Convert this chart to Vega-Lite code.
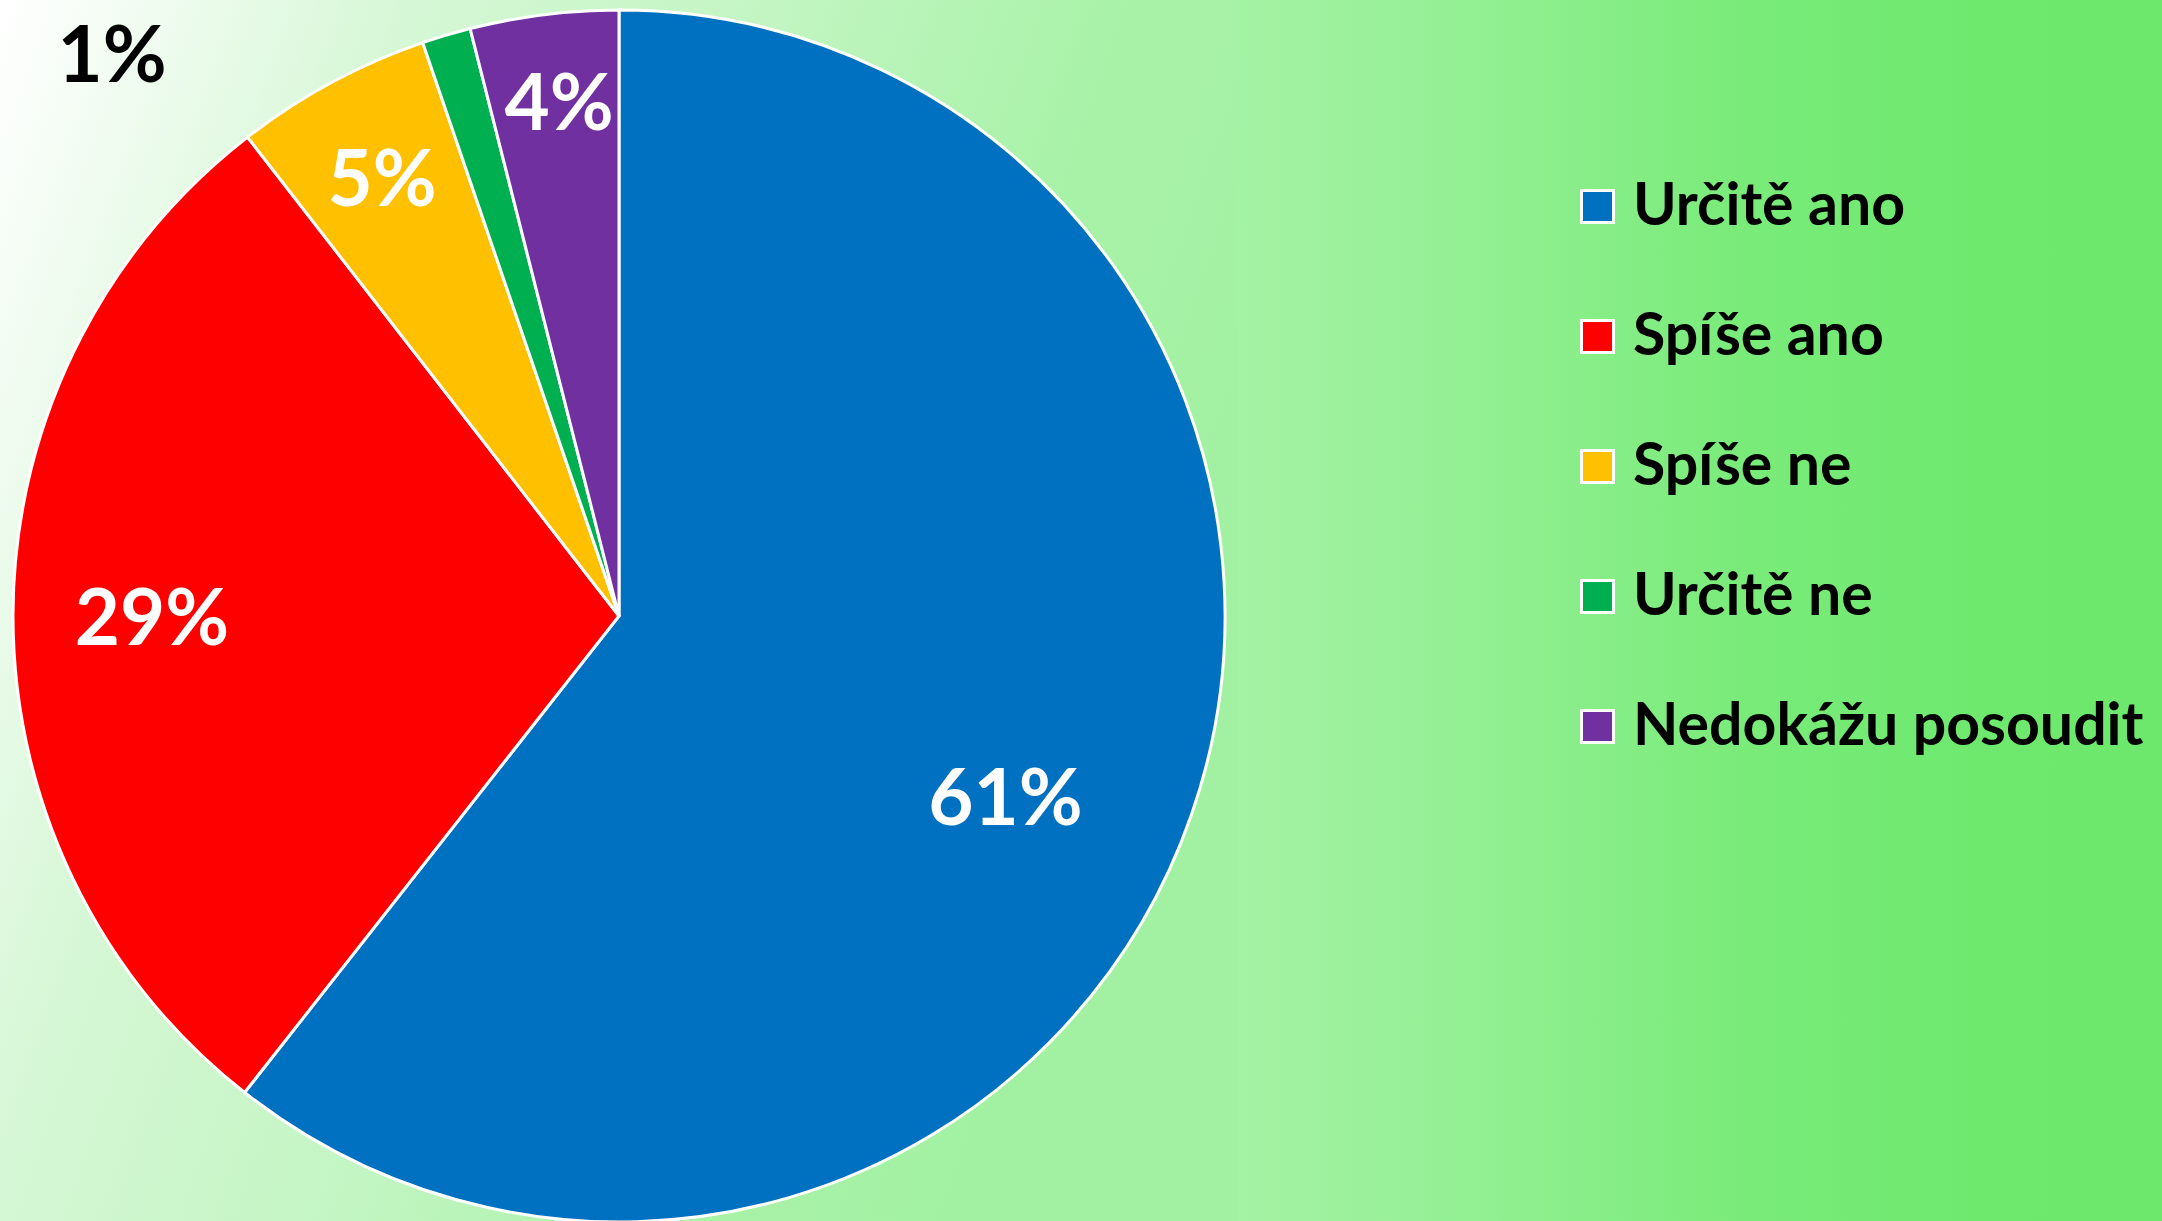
{
  "$schema": "https://vega.github.io/schema/vega-lite/v6.json",
  "padding": 0,
  "spacing": 0,
  "background": "#9ff09f",
  "datasets": {
    "answers": [
      {"i": 0, "odpoved": "Určitě ano", "podil": 0.606},
      {"i": 1, "odpoved": "Spíše ano", "podil": 0.289},
      {"i": 2, "odpoved": "Spíše ne", "podil": 0.0525},
      {"i": 3, "odpoved": "Určitě ne", "podil": 0.013},
      {"i": 4, "odpoved": "Nedokážu posoudit", "podil": 0.0395}
    ]
  },
  "config": {
    "view": {"stroke": null},
    "text": {"font": "Lato", "fontWeight": "bold", "fontSize": 78, "align": "center", "baseline": "middle"}
  },
  "hconcat": [
    {
      "width": 1238,
      "height": 1232,
      "view": {
        "stroke": null,
        "fill": {"gradient": "linear", "x1": 0, "y1": 0, "x2": 1, "y2": 0.35,
          "stops": [
            {"offset": 0, "color": "#ffffff"},
            {"offset": 0.1, "color": "#f2fcf2"},
            {"offset": 0.3, "color": "#d5f7d5"},
            {"offset": 0.55, "color": "#c3f5c3"},
            {"offset": 0.8, "color": "#a9f2a9"},
            {"offset": 1, "color": "#a2f1a2"}
          ]}
      },
      "data": {"name": "answers"},
      "encoding": {
        "theta": {"field": "podil", "type": "quantitative", "stack": true},
        "order": {"field": "i", "type": "quantitative"}
      },
      "layer": [
        {
          "mark": {"type": "arc", "outerRadius": 606, "stroke": "white", "strokeWidth": 3},
          "encoding": {
            "color": {
              "field": "odpoved", "type": "nominal",
              "scale": {
                "domain": ["Určitě ano", "Spíše ano", "Spíše ne", "Určitě ne", "Nedokážu posoudit"],
                "range": ["#0070c0", "#ff0000", "#ffc000", "#00b050", "#7030a0"]
              },
              "legend": {
                "orient": "none", "legendX": 1568, "legendY": 177,
                "title": null, "padding": 0,
                "labelFont": "Lato", "labelFontSize": 59, "labelFontWeight": "bold", "labelColor": "black",
                "labelLimit": 0, "labelOffset": 6,
                "symbolType": "square", "symbolSize": 1024,
                "symbolStrokeColor": "white", "symbolStrokeWidth": 3, "symbolOpacity": 1,
                "rowPadding": 70
              }
            }
          }
        },
        {
          "mark": {"type": "text", "radius": 427, "dx": -17, "dy": 46, "color": "white"},
          "encoding": {
            "text": {"condition": {"test": "datum.odpoved === 'Určitě ano'", "field": "podil", "format": ".0%"}, "value": ""}
          }
        },
        {
          "mark": {"type": "text", "radius": 467, "dy": 7, "color": "white"},
          "encoding": {
            "text": {"condition": {"test": "datum.odpoved === 'Spíše ano'", "field": "podil", "format": ".0%"}, "value": ""}
          }
        },
        {
          "mark": {"type": "text", "radius": 499, "dy": 6, "color": "white"},
          "encoding": {
            "text": {"condition": {"test": "datum.odpoved === 'Spíše ne'", "field": "podil", "format": ".0%"}, "value": ""}
          }
        },
        {
          "mark": {"type": "text", "radius": 517, "dx": 4, "dy": 4, "color": "white"},
          "encoding": {
            "text": {"condition": {"test": "datum.odpoved === 'Nedokážu posoudit'", "field": "podil", "format": ".0%"}, "value": ""}
          }
        },
        {
          "transform": [
            {"stack": "podil", "groupby": [], "sort": [{"field": "i", "order": "ascending"}], "as": ["t0", "t1"]},
            {"filter": "datum.odpoved === 'Určitě ne'"}
          ],
          "mark": {"type": "text", "radius": 606, "dx": -358, "dy": 30, "color": "black"},
          "encoding": {
            "theta": {"field": "t1", "type": "quantitative", "stack": null},
            "text": {"field": "podil", "type": "quantitative", "format": ".0%"}
          }
        }
      ]
    },
    {
      "width": 924,
      "height": 1232,
      "view": {
        "stroke": null,
        "fill": {"gradient": "linear", "x1": 0, "y1": 0, "x2": 1, "y2": 0,
          "stops": [
            {"offset": 0, "color": "#a4f2a4"},
            {"offset": 0.25, "color": "#93f093"},
            {"offset": 0.55, "color": "#79eb79"},
            {"offset": 0.8, "color": "#6ee96e"},
            {"offset": 1, "color": "#6de86d"}
          ]}
      },
      "data": {"values": [{"a": 1}]},
      "mark": {"type": "point", "opacity": 0},
      "encoding": {}
    }
  ]
}
